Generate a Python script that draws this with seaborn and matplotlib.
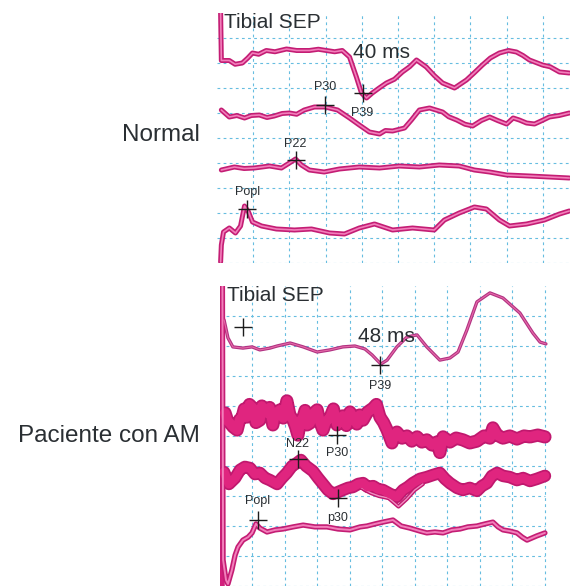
import matplotlib
matplotlib.use('Agg')
import matplotlib.pyplot as plt
import seaborn as sns

sns.set_style('white')
plt.rcParams['font.family'] = ['Liberation Sans', 'DejaVu Sans']

# ---------------------------------------------------------------------------------------------------------------------
# Data: time in ms, amplitude in grid divisions (0 = bottom of the panel, 10 = top)
# ---------------------------------------------------------------------------------------------------------------------
# Normal - tibial SEP, 4 channels
n1_t = [1.0, 1.2, 3.4, 5.0, 7.0, 8.5, 9.8, 11.5, 13.6, 16.0, 19.2, 22.0, 25.5, 28.0, 30.2, 32.5, 34.6, 36.6, 38.5,
        39.9, 41.3, 42.9, 44.8, 46.8, 49.0, 51.2, 53.2, 55.1, 57.8, 60.0, 62.3, 65.6, 68.9, 71.0, 73.3, 75.5, 78.0,
        80.5, 82.7, 84.5, 86.3, 89.9, 92.0, 94.6, 97.3]
n1_y = [10.0, 8.1, 8.1, 7.95, 8.0, 8.2, 8.4, 8.35, 8.5, 8.45, 8.56, 8.5, 8.5, 8.55, 8.5, 8.45, 8.5, 8.24, 7.44,
        6.8, 6.6, 6.8, 7.0, 7.2, 7.35, 7.64, 7.85, 8.12, 7.84, 7.5, 7.2, 7.0, 7.32, 7.6, 7.92, 8.2, 8.4,
        8.5, 8.44, 8.3, 8.12, 7.92, 7.85, 7.64, 7.6]

n2_t = [1.2, 3.4, 5.5, 7.6, 9.5, 11.7, 13.8, 15.8, 18.0, 20.0, 22.0, 24.1, 26.9, 29.9, 33.3, 36.6, 39.3, 42.1,
        44.9, 46.5, 48.5, 51.8, 53.7, 55.9, 58.7, 62.3, 64.0, 66.2, 68.5, 70.6, 73.0, 75.3, 77.5, 80.0, 81.8, 83.5,
        85.5, 87.7, 89.8, 91.8, 94.5, 97.3]
n2_y = [6.12, 5.84, 5.9, 5.8, 5.9, 5.92, 5.82, 5.88, 5.98, 6.0, 5.95, 6.12, 6.24, 6.24, 6.12, 5.8, 5.52, 5.24,
        5.16, 5.3, 5.28, 5.4, 5.72, 6.12, 6.2, 6.04, 5.85, 5.72, 5.55, 5.48, 5.7, 5.84, 5.7, 5.56, 5.8, 5.72,
        5.6, 5.56, 5.7, 5.84, 5.9, 6.0]

n3_t = [1.2, 4.8, 7.5, 10.3, 14.5, 17.8, 20.0, 21.7, 23.3, 25.5, 29.6, 33.8, 39.3, 44.9, 50.4, 55.9, 61.4, 66.9,
        71.1, 75.3, 80.0, 86.3, 91.8, 97.3]
n3_y = [3.72, 3.84, 3.78, 3.8, 3.88, 3.8, 4.0, 4.16, 3.92, 3.72, 3.64, 3.76, 3.84, 3.8, 3.88, 3.84, 3.92, 3.88,
        3.72, 3.64, 3.52, 3.48, 3.44, 3.4]

n4_t = [1.0, 1.2, 1.8, 3.4, 5.1, 6.5, 7.6, 8.7, 9.8, 12.3, 16.4, 21.4, 26.1, 31.1, 35.2, 39.3, 43.5, 48.5, 54.0,
        60.0, 62.8, 66.9, 71.1, 74.4, 78.0, 80.8, 85.5, 90.4, 94.6, 97.3]
n4_y = [0.04, 0.72, 1.24, 1.4, 1.2, 1.48, 2.28, 2.04, 1.64, 1.48, 1.36, 1.32, 1.36, 1.2, 1.16, 1.4, 1.56, 1.32, 1.4,
        1.32, 1.72, 2.0, 2.24, 2.16, 1.72, 1.48, 1.56, 1.72, 1.96, 2.08]

# Paciente con AM - tibial SEP, 4 channels
p1_t = [1.4, 2.6, 4.1, 7.2, 10.0, 12.4, 15.5, 17.7, 21.7, 25.7, 30.0, 33.9, 37.9, 41.6, 44.7, 46.9, 48.4, 49.6,
        51.5, 54.5, 57.6, 60.7, 63.7, 67.7, 70.8, 73.3, 76.0, 79.1, 83.1, 87.1, 92.3, 96.3, 98.5, 100.3]
p1_y = [8.87, 8.27, 7.97, 7.93, 7.97, 7.87, 7.93, 8.0, 8.1, 7.97, 7.8, 7.87, 7.97, 8.0, 7.9, 7.7, 7.53, 7.4,
        7.53, 7.97, 8.3, 8.37, 7.97, 7.53, 7.6, 7.8, 8.53, 9.47, 9.77, 9.6, 9.1, 8.43, 8.13, 8.07]

p2_t = [1.7, 2.5, 3.2, 4.2, 5.4, 6.2, 6.9, 7.6, 8.4, 9.2,
        10.3, 11.2, 12.4, 13.0, 13.7, 14.6, 15.4, 16.4, 17.0, 17.7,
        18.6, 19.6, 20.7, 21.6, 22.6, 23.4, 24.1, 24.9, 25.7, 26.3,
        26.9, 27.8, 28.8, 30.0, 30.9, 31.8, 32.8, 33.9, 35.0, 36.1,
        37.0, 37.9, 39.0, 40.1, 41.2, 42.2, 43.1, 44.1, 45.5, 47.2,
        48.2, 49.3, 50.4, 51.5, 52.2, 53.0, 53.8, 54.5,
        56.1, 57.6, 59.1, 60.7, 62.2, 63.7, 65.3, 66.8, 67.7, 68.7, 70.8, 72.7, 74.8, 76.9, 79.1, 81.3, 83.1,
        84.0, 85.3, 87.1, 89.2, 91.4, 93.6, 95.4, 97.8, 100.0]
p2_y = [5.77, 5.5, 5.43, 5.3, 5.2, 5.55, 5.6, 5.9, 5.63, 6.05,
        5.93, 5.45, 5.53, 6.0, 5.8, 5.77, 5.95, 5.37, 5.7, 5.8,
        5.87, 5.6, 6.17, 5.7, 5.53, 5.3, 5.03, 5.5, 5.63, 5.85,
        5.37, 5.43, 5.75, 5.87, 5.45, 5.2, 5.5, 5.6, 5.9, 5.37,
        5.55, 5.67, 5.35, 5.8, 5.6, 5.4, 5.7, 5.53, 5.8, 5.93,
        6.05, 5.63, 5.45, 5.2, 5.0, 4.77, 5.05, 5.13,
        4.93, 5.0, 4.83, 4.97, 4.8, 4.87, 4.7, 4.8, 4.45, 4.97, 4.8, 4.93, 4.87, 4.77, 4.83, 5.0, 4.93,
        5.27, 5.03, 4.93, 5.0, 4.9, 5.0, 4.97, 5.03, 4.97]

p3_t = [1.4, 2.9, 4.8, 6.3, 7.8, 9.4, 10.9, 12.4, 14.0, 15.5, 17.7, 19.2, 20.7, 22.3, 23.8, 25.0, 26.6, 28.7,
        30.3, 31.8, 33.3, 34.9, 36.4, 37.9, 39.5, 41.0, 42.6, 44.1, 45.6, 47.2, 48.7, 50.2, 52.4, 54.5, 56.4, 57.9,
        59.4, 61.6, 63.7, 65.6, 67.7, 69.3, 70.8, 73.0, 74.8, 76.9, 79.1, 80.6, 82.2, 83.7, 85.3, 87.1, 89.2, 91.4,
        93.3, 95.4, 97.5, 100.0]
p3_y = [3.8, 3.4, 3.6, 3.87, 3.97, 3.93, 3.73, 3.77, 3.6, 3.53, 3.4, 3.6, 3.77, 4.0, 4.1, 4.2, 4.0, 3.83,
        3.6, 3.4, 3.2, 3.07, 3.13, 3.2, 3.27, 3.3, 3.4, 3.43, 3.3, 3.33, 3.23, 3.2, 3.07, 2.97, 3.2, 3.3,
        3.43, 3.57, 3.63, 3.7, 3.77, 3.57, 3.43, 3.27, 3.2, 3.27, 3.17, 3.33, 3.43, 3.67, 3.77, 3.67, 3.63, 3.53,
        3.6, 3.5, 3.57, 3.67]
p3b_t = [43.2, 46.5, 49.0, 52.0, 55.0, 57.5, 60.0, 62.5]
p3b_y = [3.3, 3.1, 3.0, 2.93, 2.65, 2.9, 3.2, 3.4]

p4_t = [0.9, 1.1, 2.0, 2.6, 3.8, 4.8, 5.7, 7.2, 8.8, 10.0, 11.2, 12.4, 14.6, 17.1, 19.5, 22.6, 25.7, 29.3, 33.0,
        36.4, 40.1, 43.2, 45.3, 47.8, 50.2, 53.3, 55.8, 58.5, 61.6, 63.7, 66.2, 68.7, 71.4, 73.9, 76.3, 79.1, 81.6,
        84.0, 85.6, 87.1, 89.2, 91.4, 93.0, 94.5, 96.0, 97.5, 100.0]
p4_y = [10.0, 0.87, 0.2, 0.07, 0.53, 1.03, 1.3, 1.53, 1.63, 1.77, 2.07, 1.93, 1.8, 1.87, 1.9, 1.97, 2.03, 1.97, 1.97,
        1.9, 1.87, 1.97, 2.0, 2.07, 2.13, 2.2, 2.0, 1.93, 1.83, 1.77, 1.8, 1.77, 1.87, 1.9, 1.97, 2.0, 2.07,
        2.13, 1.97, 1.87, 1.83, 1.77, 1.63, 1.53, 1.6, 1.67, 1.77]

# Cursor marks: (label, t, y, label_y)
normal_marks = [('P39', 40.2, 6.8, 6.02), ('P30', 29.9, 6.32, 7.05), ('P22', 21.7, 4.12, 4.75), ('Popl', 8.4, 2.16, 2.85)]
patient_marks = [('', 7.2, 8.63, 0), ('P39', 49.3, 7.37, 6.68), ('N22', 24.1, 4.23, 4.72), ('P30', 36.1, 5.03, 4.42),
                 ('p30', 36.4, 2.93, 2.25), ('Popl', 11.8, 2.2, 2.83)]

# ---------------------------------------------------------------------------------------------------------------------
# Figure
# ---------------------------------------------------------------------------------------------------------------------
fig = plt.figure(figsize=(5.7, 5.86), dpi=100)
ax1 = fig.add_axes([217 / 570, 1 - 263 / 586, 353 / 570, 250 / 586])
ax2 = fig.add_axes([219.5 / 570, 0, 350.5 / 570, 300 / 586])

grid_c = '#66bde0'
trace_dark = '#c41d74'
trace_light = '#f27fbb'
txt_c = '#2a2f33'


def draw_grid(ax, xmax, tmax):
    for t in range(10, tmax + 1, 10):
        ax.axvline(t, color=grid_c, lw=0.8, ls=(0, (2.5, 3)), zorder=0)
    for y in range(0, 10):
        ax.hlines(y, 0, xmax, color=grid_c, lw=0.8, ls=(0, (2.5, 3)), zorder=0)


def trace(ax, t, y, outer=3.6, inner=1.2, dark=trace_dark, light=trace_light):
    sns.lineplot(x=t, y=y, sort=False, estimator=None, ax=ax, color=dark, lw=outer, zorder=2)
    sns.lineplot(x=t, y=y, sort=False, estimator=None, ax=ax, color=light, lw=inner, zorder=3)


def marks(ax, items):
    for lab, t, y, ly in items:
        ax.plot(t, y, marker='+', ms=13, mew=1.0, color='#1c1c1c', ls='none', zorder=5)
        if lab:
            ax.text(t, ly, lab, fontsize=9, color=txt_c, ha='center', va='center', zorder=6)


# Normal panel
draw_grid(ax1, 97.5, 90)
trace(ax1, n1_t, n1_y)
trace(ax1, n2_t, n2_y)
trace(ax1, n3_t, n3_y)
trace(ax1, n4_t, n4_y)
marks(ax1, normal_marks)
ax1.text(1.8, 9.64, 'Tibial SEP', fontsize=15, color=txt_c, ha='left', va='center')
ax1.text(45.5, 8.42, '40 ms', fontsize=15, color=txt_c, ha='center', va='center')
ax1.set_xlim(0, 97.5)
ax1.set_ylim(0, 10)

# Patient panel
draw_grid(ax2, 100, 100)
ax2.axvline(0.8, color='#d21f7c', lw=4, zorder=2)
trace(ax2, p1_t, p1_y, outer=2.4, inner=0.8, dark='#b23282', light='#e66aa8')
trace(ax2, p2_t, p2_y, outer=9.5, inner=7, dark='#c0186e', light='#e0257f')
trace(ax2, p3b_t, p3b_y, outer=3, inner=1, dark='#c0186e', light='#f08cc0')
trace(ax2, p3_t, p3_y, outer=9, inner=6.5, dark='#c0186e', light='#e0257f')
trace(ax2, p4_t, p4_y, outer=3.8, inner=1.4)
marks(ax2, patient_marks)
ax2.text(2.3, 9.67, 'Tibial SEP', fontsize=15, color=txt_c, ha='left', va='center')
ax2.text(51.2, 8.3, '48 ms', fontsize=15, color=txt_c, ha='center', va='center')
ax2.set_xlim(0, 107.7)
ax2.set_ylim(0, 10)

for ax in (ax1, ax2):
    ax.set_xticks([])
    ax.set_yticks([])
    ax.set_xlabel('')
    ax.set_ylabel('')
    for s in ax.spines.values():
        s.set_visible(False)
    ax.patch.set_alpha(0)

fig.text(200 / 570, 1 - 135 / 586, 'Normal', fontsize=17.5, color=txt_c, ha='right', va='center')
fig.text(200 / 570, 1 - 436 / 586, 'Paciente con AM', fontsize=17.5, color=txt_c, ha='right', va='center')

fig.savefig('out.png', dpi=100)
